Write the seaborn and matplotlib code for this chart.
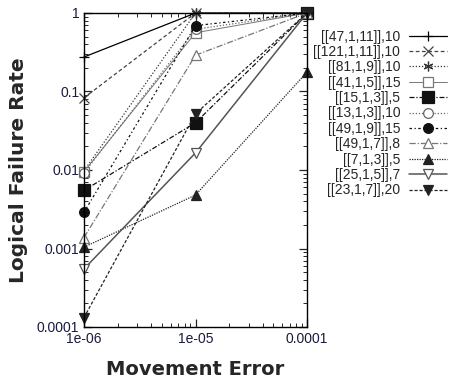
import numpy as np
import pandas as pd
import matplotlib
matplotlib.use('Agg')
import matplotlib.pyplot as plt
import seaborn as sns

# movement error rates on the x axis
movement_error = [1e-6, 1e-5, 1e-4]

codes = ['[[47,1,11]],10', '[[121,1,11]],10', '[[81,1,9]],10', '[[41,1,5]],15',
         '[[15,1,3]],5', '[[13,1,3]],10', '[[49,1,9]],15', '[[49,1,7]],8',
         '[[7,1,3]],5', '[[25,1,5]],7', '[[23,1,7]],20']

rate_47_1_11 = [0.275, 1.0, 1.0]
rate_121_1_11 = [0.083, 1.0, 1.0]
rate_81_1_9 = [0.0098, 1.0, 1.0]
rate_41_1_5 = [0.0095, 0.56, 1.0]
rate_15_1_3 = [0.0055, 0.040, 1.0]
rate_13_1_3 = [0.0092, 0.62, 1.0]
rate_49_1_9 = [0.0029, 0.69, 1.0]
rate_49_1_7 = [0.00138, 0.29, 1.0]
rate_7_1_3 = [0.00104, 0.0048, 0.177]
rate_25_1_5 = [0.00055, 0.0165, 1.0]
rate_23_1_7 = [0.000132, 0.052, 1.0]

rates = [rate_47_1_11, rate_121_1_11, rate_81_1_9, rate_41_1_5, rate_15_1_3,
         rate_13_1_3, rate_49_1_9, rate_49_1_7, rate_7_1_3, rate_25_1_5, rate_23_1_7]

# (marker, filled, color, linestyle, linewidth)
styles = [
    ('+', True, '#000000', '-', 0.9),
    ('x', True, '#444444', (0, (3, 2)), 0.9),
    ((6, 2, 0), True, '#333333', (0, (1, 1.5)), 0.9),
    ('s', False, '#777777', '-', 0.7),
    ('s', True, '#111111', (0, (4, 1.5, 1, 1.5)), 0.9),
    ('o', False, '#666666', (0, (1, 1.5)), 0.9),
    ('o', True, '#111111', (0, (2, 2, 1, 2)), 0.9),
    ('^', False, '#777777', (0, (5, 1.5, 1, 1.5)), 0.9),
    ('^', True, '#222222', (0, (1, 1)), 0.9),
    ('v', False, '#555555', '-', 1.1),
    ('v', True, '#222222', (0, (2.5, 1.5)), 0.9),
]

sns.set_style('ticks')
plt.rcParams['font.family'] = ['Liberation Sans', 'DejaVu Sans']

fig = plt.figure(figsize=(4.54, 3.85), dpi=100)
ax = fig.add_axes([84 / 454, 1 - 327 / 385, 223 / 454, 314 / 385])

for code, vals, (m, filled, c, ls, lw) in zip(codes, rates, styles):
    mfc = c if filled else 'white'
    ms = 8 if m == 's' and filled else 7
    sns.lineplot(x=movement_error, y=vals, ax=ax, color=c, linestyle=ls, linewidth=lw,
                 marker=m, markersize=ms, markerfacecolor=mfc, markeredgecolor=c,
                 markeredgewidth=0.9, label=code, legend=False, clip_on=False)

ax.set_xscale('log')
ax.set_yscale('log')
ax.set_xlim(1e-6, 1e-4)
ax.set_ylim(1e-4, 1)
ax.set_xticks([1e-6, 1e-5, 1e-4])
ax.set_xticklabels(['1e-06', '1e-05', '0.0001'])
ax.set_yticks([1e-4, 1e-3, 1e-2, 1e-1, 1])
ax.set_yticklabels(['0.0001', '0.001', '0.01', '0.1', '1'])
ax.tick_params(which='both', direction='in', top=True, right=True, labelsize=10,
               labelcolor='#1a1a40')
ax.tick_params(which='major', length=6, width=0.9)
ax.tick_params(which='minor', length=3, width=0.7)
for sp in ax.spines.values():
    sp.set_linewidth(1.0)
    sp.set_color('black')

ax.set_xlabel('Movement Error', fontsize=14, fontweight='bold', family='DejaVu Sans', labelpad=10)
ax.set_ylabel('Logical Failure Rate', fontsize=14.5, fontweight='bold', family='DejaVu Sans', labelpad=6)

handles, labels = ax.get_legend_handles_labels()
fig.legend(handles, labels, loc='upper right', bbox_to_anchor=(453 / 454, 1 - 24 / 385),
           markerfirst=False, frameon=False, fontsize=10, handlelength=2.8,
           labelspacing=0.1, handletextpad=0.6, borderaxespad=0)

fig.savefig('out.png', dpi=100)
